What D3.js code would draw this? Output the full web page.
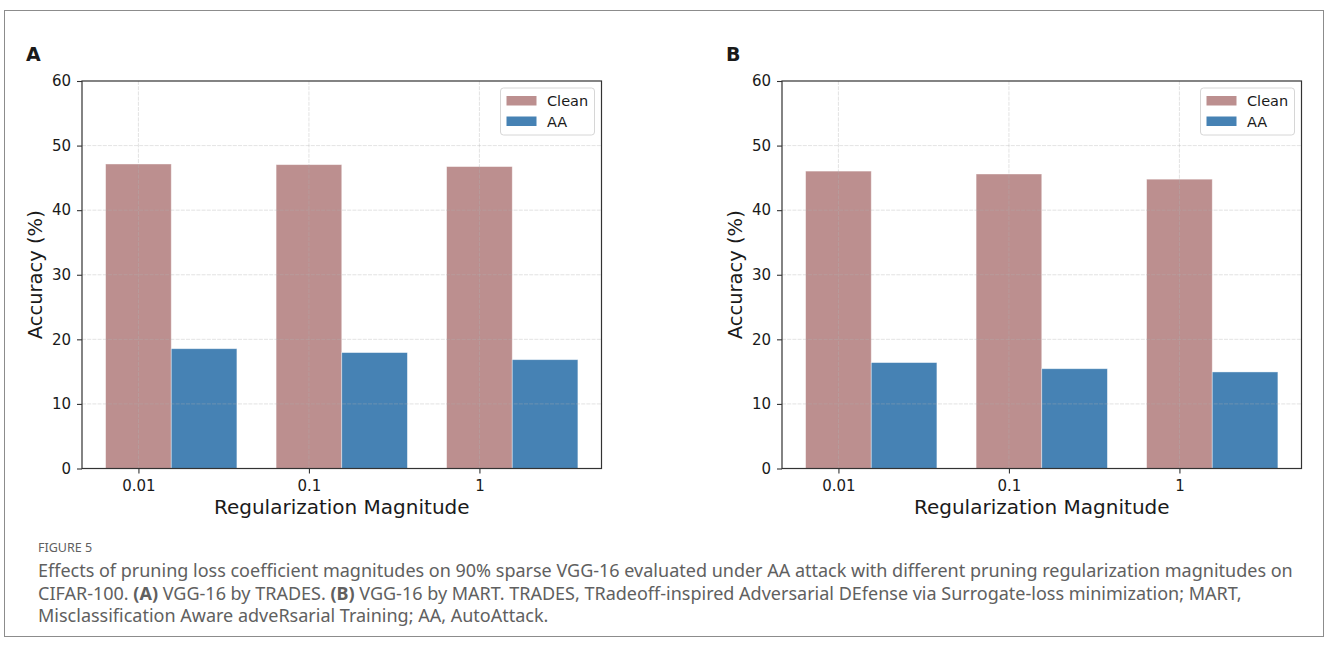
<!DOCTYPE html>
<html>
<head>
<meta charset="utf-8">
<script src="https://cdn.jsdelivr.net/npm/d3@7"></script>
<style>
	body { margin: 0; background: #fff; }
	svg { display: block; }
	text { font-family: "DejaVu Sans", sans-serif; fill: #1a1a1a; }
	.caption text { font-family: "Noto Sans", "Open Sans", sans-serif; fill: #606060; }
</style>
</head>
<body>
<div id="canvas"></div>
<script>
// values
var categories = ['0.01', '0.1', '1'];
var seriesNames = ['Clean', 'AA'];
var cleanA = [47.15, 47.05, 46.75];
var aaA = [18.55, 17.95, 16.85];
var cleanB = [46.05, 45.6, 44.8];
var aaB = [16.4, 15.45, 14.95];
var yTicks = [0, 10, 20, 30, 40, 50, 60];

var colors = ['#bc8f8f', '#4682b4'];

var svg = d3.select('#canvas').append('svg')
	.attr('width', 1328)
	.attr('height', 650);

// outer frame
svg.append('rect')
	.attr('x', 4.5).attr('y', 10.5)
	.attr('width', 1319).attr('height', 626)
	.attr('fill', 'none')
	.attr('stroke', '#8c8c8c')
	.attr('stroke-width', 1);

function drawPanel(offsetX, letter, clean, aa) {
	var g = svg.append('g').attr('transform', 'translate(' + offsetX + ',0)');
	var w = 0.385,
		lo = -w / 2,
		hi = categories.length - 1 + 1.5 * w,
		m = 0.05 * (hi - lo);

	var x = d3.scaleLinear().domain([lo - m, hi + m]).range([82, 601.5]);
	var y = d3.scaleLinear().domain([0, 60]).range([468.5, 81]);

	// bars
	var series = [clean, aa];
	series.forEach(function(vals, s) {
		g.append('g').selectAll('rect')
			.data(vals)
			.enter()
			.append('rect')
			.attr('x', function(d, i) { return x(i - w / 2 + s * w); })
			.attr('width', x(w) - x(0))
			.attr('y', function(d) { return y(d); })
			.attr('height', function(d) { return y(0) - y(d); })
			.attr('fill', colors[s])
			.attr('stroke', '#ffffff')
			.attr('stroke-opacity', 0.5)
			.attr('stroke-width', 0.8);
	});

	// grid drawn over the bars like matplotlib's default
	var grid = g.append('g').attr('class', 'grid');
	grid.selectAll('line.h')
		.data(yTicks.slice(1, -1))
		.enter()
		.append('line')
		.attr('x1', x.range()[0]).attr('x2', x.range()[1])
		.attr('y1', function(d) { return y(d); })
		.attr('y2', function(d) { return y(d); });
	grid.selectAll('line.v')
		.data(d3.range(categories.length))
		.enter()
		.append('line')
		.attr('x1', function(d) { return x(d); })
		.attr('x2', function(d) { return x(d); })
		.attr('y1', y(60)).attr('y2', y(0));
	grid.selectAll('line')
		.attr('stroke', '#b0b0b0')
		.attr('stroke-opacity', 0.4)
		.attr('stroke-width', 0.9)
		.attr('stroke-dasharray', '4,1.2');

	// axes
	var yAxis = g.append('g')
		.attr('transform', 'translate(' + x.range()[0] + ',0)')
		.call(d3.axisLeft(y).tickValues(yTicks).tickSize(5).tickPadding(6).tickSizeOuter(0));
	var xAxis = g.append('g')
		.attr('transform', 'translate(0,' + y(0) + ')')
		.call(d3.axisBottom(x).tickValues(d3.range(categories.length))
			.tickFormat(function(i) { return categories[i]; })
			.tickSize(5).tickPadding(7).tickSizeOuter(0));
	[yAxis, xAxis].forEach(function(a) {
		a.select('.domain').remove();
		a.selectAll('line').attr('stroke', '#333').attr('stroke-width', 1.1);
		a.selectAll('text')
			.style('font-family', '"DejaVu Sans", sans-serif')
			.style('font-size', '15px')
			.attr('fill', '#111');
	});

	// spines
	g.append('rect')
		.attr('x', x.range()[0]).attr('y', y(60))
		.attr('width', x.range()[1] - x.range()[0])
		.attr('height', y(0) - y(60))
		.attr('fill', 'none')
		.attr('stroke', '#333')
		.attr('stroke-width', 1.2);

	// axis titles
	g.append('text')
		.attr('x', (x.range()[0] + x.range()[1]) / 2)
		.attr('y', 514)
		.attr('text-anchor', 'middle')
		.style('font-size', '20px')
		.text('Regularization Magnitude');
	g.append('text')
		.attr('transform', 'translate(42,' + ((y(0) + y(60)) / 2) + ') rotate(-90)')
		.attr('text-anchor', 'middle')
		.style('font-size', '19.5px')
		.text('Accuracy (%)');

	// panel letter
	g.append('text')
		.attr('x', 26)
		.attr('y', 61)
		.style('font-size', '19px')
		.style('font-weight', 'bold')
		.attr('fill', '#000')
		.text(letter);

	// legend
	var leg = g.append('g').attr('transform', 'translate(500.5,88)');
	leg.append('rect')
		.attr('width', 94).attr('height', 47)
		.attr('rx', 3)
		.attr('fill', '#fff')
		.attr('fill-opacity', 0.8)
		.attr('stroke', '#d6d6d6');
	seriesNames.forEach(function(name, s) {
		leg.append('rect')
			.attr('x', 6).attr('y', 8 + s * 20.5)
			.attr('width', 30).attr('height', 9.5)
			.attr('fill', colors[s]);
		leg.append('text')
			.attr('x', 46.5).attr('y', 18 + s * 20.5)
			.style('font-size', '14.5px')
			.text(name);
	});
}

drawPanel(0, 'A', cleanA, aaA);
drawPanel(700, 'B', cleanB, aaB);

// caption
var cap = svg.append('g').attr('class', 'caption');
cap.append('text')
	.attr('x', 38).attr('y', 552)
	.style('font-size', '12.5px')
	.text('FIGURE 5');

var lines = [
	[{ t: 'Effects of pruning loss coefficient magnitudes on 90% sparse VGG-16 evaluated under AA attack with different pruning regularization magnitudes on' }],
	[{ t: 'CIFAR-100. ' }, { t: '(A)', b: true }, { t: ' VGG-16 by TRADES. ' }, { t: '(B)', b: true }, { t: ' VGG-16 by MART. TRADES, TRadeoff-inspired Adversarial DEfense via Surrogate-loss minimization; MART,' }],
	[{ t: 'Misclassification Aware adveRsarial Training; AA, AutoAttack.' }]
];
var capText = lines.map(function(parts, li) {
	var t = cap.append('text')
		.attr('x', 38)
		.attr('y', 577 + li * 22.7)
		.style('font-size', '16px');
	parts.forEach(function(p) {
		t.append('tspan')
			.style('font-weight', p.b ? 'bold' : 'normal')
			.text(p.t);
	});
	return t;
});
// fit the first caption line to its width in the figure
var len = capText[0].node().getComputedTextLength();
var fs = 16 * 1255 / len;
capText.forEach(function(t) { t.style('font-size', fs + 'px'); });
</script>
</body>
</html>
